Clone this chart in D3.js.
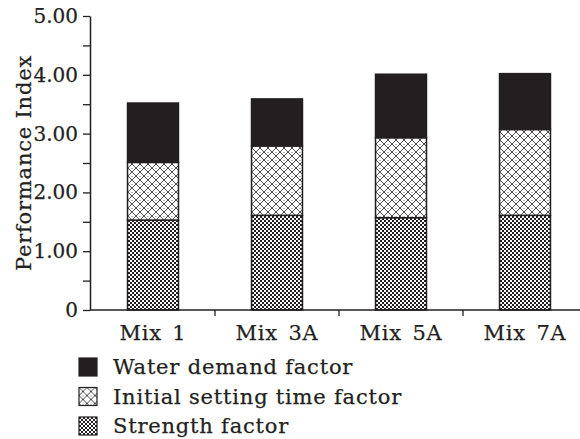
<!DOCTYPE html>
<meta charset="utf-8">
<style>
  body { margin: 0; background: #fff; }
  svg { display: block; font-family: "DejaVu Serif", serif; }
  text { white-space: pre; fill: #231f20; stroke: #231f20; stroke-width: 0.25; }
</style>
<body>
<svg id="chart" width="580" height="439"></svg>
<script src="https://d3js.org/d3.v7.min.js"></script>
<script>
  const mixes = ["Mix 1", "Mix 3A", "Mix 5A", "Mix 7A"];
  const strength = [1.53, 1.61, 1.57, 1.61];
  const setting = [0.98, 1.18, 1.36, 1.46];
  const water = [1.01, 0.80, 1.08, 0.95];
  const seriesNames = ["Water demand factor", "Initial setting time factor", "Strength factor"];
  const yTicks = [0, 0.5, 1, 1.5, 2, 2.5, 3, 3.5, 4, 4.5, 5];

  const svg = d3.select("#chart");
  const ink = "#231f20";

  // patterns
  const defs = svg.append("defs");
  const hatch = defs.append("pattern").attr("id", "hatch")
    .attr("patternUnits", "userSpaceOnUse").attr("width", 8).attr("height", 8);
  hatch.append("rect").attr("width", 8).attr("height", 8).attr("fill", "#fff");
  hatch.append("path").attr("d", "M0,0L8,8M0,8L8,0")
    .attr("stroke", "#3a3a3a").attr("stroke-width", 0.9);
  hatch.append("rect").attr("x", 3.5).attr("y", 0).attr("width", 1).attr("height", 1).attr("fill", "#777");

  const check = defs.append("pattern").attr("id", "check")
    .attr("patternUnits", "userSpaceOnUse").attr("width", 4).attr("height", 4);
  check.append("rect").attr("width", 4).attr("height", 4).attr("fill", "#fff");
  check.append("rect").attr("width", 2).attr("height", 2).attr("fill", ink);
  check.append("rect").attr("x", 2).attr("y", 2).attr("width", 2).attr("height", 2).attr("fill", ink);

  const fills = ["#231f20", "url(#hatch)", "url(#check)"];

  const x = d3.scaleBand().domain(mixes).range([91, 587])
    .paddingInner(0.589).paddingOuter(0.2945);
  const y = d3.scaleLinear().domain([0, 5]).range([310, 16]);

  const rows = mixes.map((m, i) => ({ mix: m, strength: strength[i], setting: setting[i], water: water[i] }));
  const stack = d3.stack().keys(["strength", "setting", "water"])(rows);
  const fillByKey = { strength: fills[2], setting: fills[1], water: fills[0] };

  svg.append("g").selectAll("g")
    .data(stack)
    .join("g")
    .attr("fill", d => fillByKey[d.key])
    .selectAll("rect")
    .data(d => d)
    .join("rect")
    .attr("x", d => x(d.data.mix))
    .attr("y", d => y(d[1]))
    .attr("width", x.bandwidth())
    .attr("height", d => y(d[0]) - y(d[1]))
    .attr("stroke", ink)
    .attr("stroke-width", 1.5);

  // y axis
  const yAxis = svg.append("g").attr("transform", "translate(90,0)")
    .call(d3.axisLeft(y).tickValues(yTicks).tickSize(7).tickSizeOuter(0).tickPadding(5)
      .tickFormat(d => d === 0 ? "0" : (d % 1 === 0 ? d.toFixed(2) : "")));
  yAxis.select(".domain").attr("stroke", ink).attr("stroke-width", 1.5);
  yAxis.selectAll(".tick line").attr("stroke", ink).attr("stroke-width", 1.3);
  yAxis.selectAll(".tick text").attr("font-size", 20).attr("fill", ink).attr("font-family", "DejaVu Serif");

  // x axis
  const xAxis = svg.append("g");
  xAxis.append("line").attr("x1", 90).attr("x2", 580).attr("y1", y(0)).attr("y2", y(0))
    .attr("stroke", ink).attr("stroke-width", 1.5);
  xAxis.selectAll("line.sep")
    .data(mixes.slice(1))
    .join("line").attr("class", "sep")
    .attr("x1", d => x(d) - x.step() * x.paddingInner() / 2)
    .attr("x2", d => x(d) - x.step() * x.paddingInner() / 2)
    .attr("y1", y(0)).attr("y2", y(0) + 6)
    .attr("stroke", ink).attr("stroke-width", 1.3);
  xAxis.selectAll("text")
    .data(mixes)
    .join("text")
    .attr("x", d => x(d) + x.bandwidth() / 2)
    .attr("y", 340)
    .attr("text-anchor", "middle")
    .attr("font-size", 21)
    .attr("letter-spacing", 0.8)
    .attr("word-spacing", 3)
    .text(d => d);

  // y label
  svg.append("text")
    .attr("transform", "translate(31,163) rotate(-90)")
    .attr("text-anchor", "middle")
    .attr("font-size", 21)
    .attr("letter-spacing", 0.8)
    .text("Performance Index");

  // legend
  const legend = svg.append("g").selectAll("g")
    .data(seriesNames)
    .join("g")
    .attr("transform", (d, i) => `translate(79,${358 + i * 29.5})`);
  legend.append("rect")
    .attr("width", 18).attr("height", 18)
    .attr("fill", (d, i) => fills[i])
    .attr("stroke", ink).attr("stroke-width", 1.2);
  legend.append("text")
    .attr("x", 34).attr("y", 16)
    .attr("font-size", 21)
    .attr("letter-spacing", 0.8)
    .text(d => d);
</script>
</body>
